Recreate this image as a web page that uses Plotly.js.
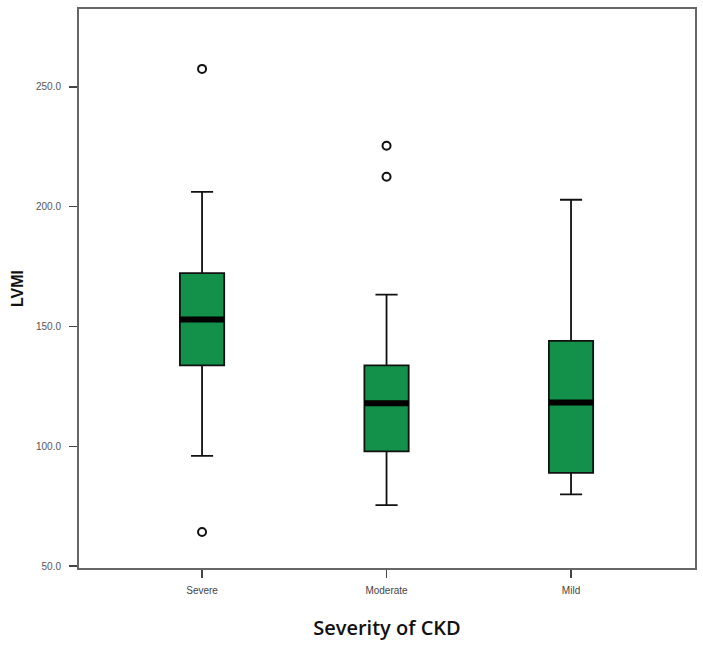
<!DOCTYPE html>
<html>
<head>
<meta charset="utf-8">
<script src="https://cdn.plot.ly/plotly-3.0.1.min.js"></script>
<style>html,body{margin:0;padding:0;background:#fff;}#chart{width:703px;height:646px;}</style>
</head>
<body>
<div id="chart"></div>
<script>
// Data
const categories = ["Severe", "Moderate", "Mild"];
const lowerFence = [96, 75.4, 79.9];
const q1 = [133.8, 97.9, 88.9];
const median = [152.9, 118, 118.3];
const q3 = [172.3, 133.8, 144];
const upperFence = [206.2, 163.3, 202.9];
const outlierCat = ["Severe", "Severe", "Moderate", "Moderate"];
const outlierVal = [257.5, 64.2, 225.4, 212.5];
const yTickVals = [50, 100, 150, 200, 250];

const boxW = 0.24;
const boxColor = "#13904A";

const traces = [{
  type: "box",
  x: categories,
  q1: q1,
  median: median,
  q3: q3,
  lowerfence: lowerFence,
  upperfence: upperFence,
  width: boxW,
  whiskerwidth: 0.5,
  fillcolor: boxColor,
  line: {color: "#111", width: 1.8},
  boxpoints: false,
  hoverinfo: "skip",
  showlegend: false
}, {
  type: "scatter",
  mode: "markers",
  x: outlierCat,
  y: outlierVal,
  marker: {symbol: "circle-open", size: 8, color: "#111", line: {width: 2, color: "#111"}},
  showlegend: false,
  hoverinfo: "skip"
}];

// thick median bars, positioned from the data arrays
const shapes = categories.map((c, i) => ({
  type: "line", xref: "x", yref: "y",
  x0: i - boxW / 2, x1: i + boxW / 2, y0: median[i], y1: median[i],
  line: {color: "#000", width: 6}
}));

const layout = {
  width: 703, height: 646,
  margin: {l: 79, r: 8, t: 9, b: 78},
  paper_bgcolor: "#fff", plot_bgcolor: "#fff",
  showlegend: false,
  shapes: shapes,
  xaxis: {
    type: "category",
    range: [-0.667, 2.672],
    showline: true, mirror: true, linecolor: "#666", linewidth: 2,
    ticks: "outside", ticklen: 8, tickwidth: 1.5, tickcolor: "#444",
    ticklabelstandoff: 4,
    showgrid: false, zeroline: false,
    tickfont: {family: "Liberation Sans Narrow, Arial Narrow, sans-serif", size: 10, color: "#444"},
    title: {text: "Severity of CKD", standoff: 26,
      font: {family: "Open Sans, sans-serif", size: 20, color: "#111", weight: 600}}
  },
  yaxis: {
    range: [49.2, 282.5],
    tickvals: yTickVals, tickformat: ".1f",
    showline: true, mirror: true, linecolor: "#666", linewidth: 2,
    ticks: "outside", ticklen: 8, tickwidth: 1.5, tickcolor: "#444",
    ticklabelstandoff: 6,
    showgrid: false, zeroline: false,
    tickfont: {family: "Liberation Sans Narrow, Arial Narrow, sans-serif", size: 10, color: "#555"},
    title: {text: "LVMI", standoff: 8,
      font: {family: "Liberation Sans, Arial, sans-serif", size: 16, color: "#111", weight: 700}}
  }
};

Plotly.newPlot("chart", traces, layout, {displayModeBar: false, staticPlot: true});
</script>
</body>
</html>
